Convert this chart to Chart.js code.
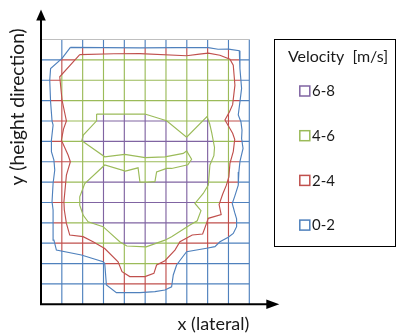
<!DOCTYPE html>
<html>
<head>
<meta charset="utf-8">
<script src="https://cdn.jsdelivr.net/npm/chart.js@4.4.1/dist/chart.umd.min.js"></script>
<style>
  html, body { margin: 0; padding: 0; background: #fff; }
</style>
</head>
<body>
<canvas id="chart" width="396" height="333"></canvas>
<script>
// grid lines of the measurement field (x: columns, y: rows)
const gridX = [0, 1, 2, 3, 4, 5, 6, 7, 8, 9, 10]
const gridY = [0, 1, 2, 3, 4, 5, 6, 7, 8, 9, 10, 11, 12, 13]

const ranges = ['0-2', '2-4', '4-6', '6-8']
const rangeColors = ['#4F81BD', '#C0504D', '#9BBB59', '#8064A2']

// iso lines: 2 m/s, 4 m/s, 6 m/s
const contour2 = [
  [1.41, 12.61], [3.0, 12.6], [4.75, 12.59], [6.5, 12.6], [8.03, 12.6], [8.5, 12.52], [9.0, 12.53],
  [9.52, 12.45], [9.55, 11.58], [9.63, 10.6], [9.55, 9.94], [9.47, 9.3], [9.6, 8.95], [9.65, 8.55],
  [9.63, 8.14], [9.7, 7.65], [9.55, 7.0], [9.5, 6.5], [9.47, 5.85], [9.3, 5.3], [9.18, 4.95],
  [9.3, 4.5], [9.39, 4.2], [9.39, 3.81], [9.23, 3.48], [8.99, 3.29], [8.59, 3.07], [8.35, 2.83],
  [7.95, 2.75], [6.99, 2.58], [6.75, 2.26], [6.51, 1.93], [6.35, 1.44], [6.27, 0.86], [5.95, 0.7],
  [5.47, 0.62], [4.75, 0.57], [3.62, 0.57], [3.14, 0.95], [3.06, 2.0], [2.98, 2.09], [1.94, 2.42],
  [0.74, 2.66], [0.62, 3.15], [0.58, 3.65], [0.58, 4.63], [0.53, 5.04], [0.58, 5.93], [0.66, 6.59],
  [0.62, 7.08], [0.5, 7.49], [0.5, 8.06], [0.58, 8.8], [0.53, 9.0], [0.46, 9.94], [0.42, 11.0],
  [0.46, 11.57], [1.01, 12.07]
]
const contour4 = [
  [1.86, 12.26], [3.5, 12.3], [4.75, 12.31], [6.99, 12.2], [7.6, 12.28], [8.03, 12.33], [8.59, 12.23],
  [9.07, 12.03], [9.23, 11.74], [9.31, 10.76], [9.2, 9.8], [9.05, 9.45], [8.83, 9.05], [9.0, 8.75],
  [9.2, 8.4], [9.3, 8.1], [9.23, 7.49], [9.07, 6.92], [9.02, 6.25], [8.9, 5.85], [8.72, 5.4],
  [8.55, 4.9], [8.65, 4.4], [8.03, 4.22], [7.92, 3.9], [7.76, 3.45], [7.26, 3.4], [6.67, 3.07],
  [6.43, 2.66], [5.95, 2.14], [5.55, 1.93], [5.42, 1.52], [4.99, 1.36], [4.26, 1.36], [3.89, 1.6],
  [3.7, 2.09], [3.06, 2.74], [2.5, 3.07], [2.02, 3.32], [1.38, 3.4], [1.22, 3.97], [1.12, 4.63],
  [1.1, 5.04], [1.22, 6.34], [1.41, 7.0], [1.3, 7.33], [0.98, 8.06], [1.08, 8.6], [1.22, 9.0],
  [1.01, 10.03], [0.9, 11.17]
]
const contour6 = [
  [2.67, 9.34], [4.99, 9.34], [6.03, 9.01], [6.99, 8.2], [7.97, 9.22], [8.1, 8.85], [8.2, 8.4],
  [8.33, 7.7], [8.3, 7.3], [8.11, 6.84], [8.03, 5.85], [7.79, 5.44], [7.39, 4.95], [7.68, 4.6],
  [7.5, 4.1], [7.15, 3.89], [6.27, 3.32], [5.95, 3.15], [5.05, 2.82], [4.12, 2.86], [3.78, 3.07],
  [2.98, 3.81], [2.26, 4.05], [2.02, 4.38], [1.94, 4.63], [1.86, 4.87], [1.86, 5.28], [2.1, 5.93],
  [3.06, 6.84], [4.05, 6.54], [4.66, 6.7], [4.75, 6.0], [5.07, 5.99], [5.47, 6.02], [5.55, 6.5],
  [6.03, 6.67], [6.27, 6.67], [7.05, 6.85], [7.23, 7.12], [6.99, 7.53], [6.83, 7.41], [5.95, 7.24],
  [5.0, 7.2], [4.02, 7.36], [3.06, 7.24], [1.96, 8.03], [2.03, 8.31], [2.67, 9.01]
]

const contours = [contour2, contour4, contour6]
const FONT = 'Lato, "Open Sans", sans-serif'
const TEXT = '#1a1a1a'

function closed(points) {
  return points.concat([points[0]]).map(([x, y]) => ({ x, y }))
}

function tracePolygon(ctx, points, x, y) {
  points.forEach(([px, py], i) => {
    const cx = x.getPixelForValue(px)
    const cy = y.getPixelForValue(py)
    if (i === 0) ctx.moveTo(cx, cy)
    else ctx.lineTo(cx, cy)
  })
  ctx.closePath()
}

function strokeGrid(ctx, x, y, color) {
  const yBottom = y.getPixelForValue(gridY[0])
  const yTop = y.getPixelForValue(gridY[gridY.length - 1])
  const xLeft = x.getPixelForValue(gridX[0])
  const xRight = x.getPixelForValue(gridX[gridX.length - 1])
  ctx.strokeStyle = color
  ctx.lineWidth = 1.15
  ctx.beginPath()
  gridX.slice(1).forEach(v => {
    const px = x.getPixelForValue(v)
    ctx.moveTo(px, yBottom)
    ctx.lineTo(px, yTop)
  })
  gridY.slice(1, -1).forEach(v => {
    const py = y.getPixelForValue(v)
    ctx.moveTo(xLeft, py)
    ctx.lineTo(xRight, py)
  })
  ctx.stroke()
}

// grid lines take the colour of the velocity zone they run through
const zoneGrid = {
  id: 'zoneGrid',
  beforeDatasetsDraw(chart) {
    const { ctx, scales: { x, y } } = chart
    rangeColors.forEach((color, i) => {
      ctx.save()
      ctx.beginPath()
      if (i === 0) ctx.rect(0, 0, chart.width, chart.height)
      else tracePolygon(ctx, contours[i - 1], x, y)
      if (i < contours.length) tracePolygon(ctx, contours[i], x, y)
      ctx.clip('evenodd')
      strokeGrid(ctx, x, y, color)
      ctx.restore()
    })

    // top frame line
    const top = y.getPixelForValue(gridY[gridY.length - 1])
    ctx.save()
    ctx.strokeStyle = '#bfbfbf'
    ctx.lineWidth = 1.2
    ctx.beginPath()
    ctx.moveTo(x.getPixelForValue(gridX[0]), top)
    ctx.lineTo(x.getPixelForValue(gridX[gridX.length - 1]), top)
    ctx.stroke()
    ctx.restore()
  }
}

// black axes with arrow heads
const arrowAxes = {
  id: 'arrowAxes',
  afterDatasetsDraw(chart) {
    const { ctx, scales: { x, y } } = chart
    const x0 = x.getPixelForValue(0)
    const y0 = y.getPixelForValue(0)
    const yTip = 9.5
    const xTip = x.getPixelForValue(10) + 30
    ctx.save()
    ctx.strokeStyle = '#000'
    ctx.fillStyle = '#000'
    ctx.lineWidth = 2
    ctx.beginPath()
    ctx.moveTo(x0, y0)
    ctx.lineTo(x0, yTip + 8)
    ctx.moveTo(x0 - 1, y0)
    ctx.lineTo(xTip - 10, y0)
    ctx.stroke()

    ctx.beginPath()
    ctx.moveTo(x0, yTip)
    ctx.lineTo(x0 - 4.8, yTip + 11)
    ctx.lineTo(x0 + 4.8, yTip + 11)
    ctx.closePath()
    ctx.fill()

    ctx.beginPath()
    ctx.moveTo(xTip, y0)
    ctx.lineTo(xTip - 13, y0 - 4.8)
    ctx.lineTo(xTip - 13, y0 + 4.8)
    ctx.closePath()
    ctx.fill()
    ctx.restore()
  }
}

// framed legend to the right of the field
const boxLegend = {
  id: 'boxLegend',
  afterDraw(chart) {
    const ctx = chart.ctx
    const left = 274.5, top = 39.5, width = 121, height = 207
    ctx.save()
    ctx.strokeStyle = '#000'
    ctx.lineWidth = 1
    ctx.strokeRect(left, top, width, height)

    ctx.fillStyle = TEXT
    ctx.textBaseline = 'middle'
    ctx.textAlign = 'center'
    ctx.font = '16px ' + FONT
    ctx.fillText('Velocity  [m/s]', left + 63.5, 57)

    ctx.textAlign = 'left'
    ctx.font = '15px ' + FONT
    ranges.slice().reverse().forEach((label, i) => {
      const cy = 91 + i * 44.7
      ctx.strokeStyle = rangeColors[ranges.length - 1 - i]
      ctx.lineWidth = 1.5
      ctx.strokeRect(left + 25.3, cy - 5, 10, 10)
      ctx.fillText(label, left + 37.5, cy + 0.5)
    })
    ctx.restore()
  }
}

new Chart(document.getElementById('chart'), {
  type: 'scatter',
  data: {
    datasets: contours.map((points, i) => ({
      label: ranges[i],
      data: closed(points),
      showLine: true,
      borderColor: rangeColors[i],
      borderWidth: 1.15,
      pointRadius: 0,
      tension: 0
    }))
  },
  options: {
    responsive: false,
    animation: false,
    events: [],
    layout: { padding: { left: 0, right: 146.7, top: 28.3, bottom: 0 } },
    plugins: {
      legend: { display: false },
      tooltip: { enabled: false }
    },
    scales: {
      x: {
        type: 'linear',
        min: 0,
        max: 10,
        grid: { display: false, drawTicks: false },
        border: { display: false },
        ticks: { display: false },
        title: {
          display: true,
          text: 'x (lateral)',
          align: 'end',
          color: TEXT,
          font: { family: FONT, size: 18, lineHeight: 1 },
          padding: { top: 10.7, bottom: 0 }
        }
      },
      y: {
        type: 'linear',
        min: 0,
        max: 13.55,
        grid: { display: false, drawTicks: false },
        border: { display: false },
        ticks: { display: false },
        title: {
          display: true,
          text: 'y (height direction)',
          align: 'end',
          color: TEXT,
          font: { family: FONT, size: 19.2, lineHeight: 1 },
          padding: { top: 7.9, bottom: 13.9 }
        }
      }
    }
  },
  plugins: [zoneGrid, arrowAxes, boxLegend]
})
</script>
</body>
</html>
